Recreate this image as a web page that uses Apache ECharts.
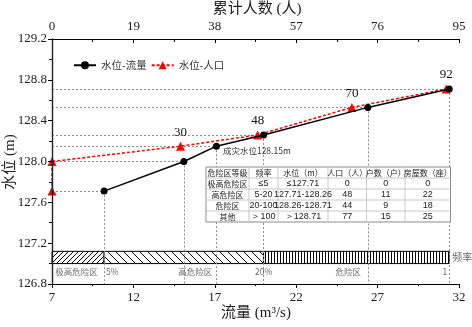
<!DOCTYPE html>
<html>
<head>
<meta charset="utf-8">
<script src="https://cdn.jsdelivr.net/npm/echarts@6/dist/echarts.min.js"></script>
<style>
  html, body { margin: 0; padding: 0; background: #fff; }
  #chart { width: 472px; height: 327px; }
</style>
</head>
<body>
<div id="chart"></div>
<script>
// 水位-流量
const flow = [10.2, 15.1, 17.1, 20.0, 26.4, 31.4];
const levelByFlow = [127.71, 128.0, 128.15, 128.26, 128.53, 128.71];
// 水位-人口
const people = [0, 0, 30, 48, 70, 92];
const levelByPeople = [127.71, 128.0, 128.15, 128.26, 128.53, 128.71];

// 频率分区带
const zoneFrom = [7, 10.2, 20];
const zoneTo = [10.2, 20, 31.4];
const zoneHatch = ['fwd', 'back', 'vert'];
const bandBottom = 127.0;
const bandTop = 127.12;
const zoneLabels = ['极高危险区', '5%', '高危险区', '20%', '危险区', '1'];
const zoneLabelX = [8.5, 10.2, 15.8, 20, 25.2, 31.4];
const zoneLabelY = 126.92;

// 表格
const tableHeader = ['危险区等级', '频率', '水位（m）', '人口（人）', '户数（户）', '房屋数（座）'];
const tableRows = [
  ['极高危险区', '≤5', '≤127.71', '0', '0', '0'],
  ['高危险区', '5-20', '127.71-128.26', '48', '11', '22'],
  ['危险区', '20-100', '128.26-128.71', '44', '9', '18'],
  ['其他', '＞100', '＞128.71', '77', '15', '25']
];

const SERIF = '"Liberation Serif", "Times New Roman", "Noto Sans CJK SC", serif';
const CJK = '"Noto Sans CJK SC", sans-serif';
const GUIDE = { color: '#8a8a8a', type: [2, 2], width: 1 };

function makeHatch(kind) {
  const s = kind === 'back' ? 8 : (kind === 'fwd' ? 5 : 3);
  const c = document.createElement('canvas');
  c.width = s; c.height = s;
  const g = c.getContext('2d');
  g.fillStyle = '#fff';
  g.fillRect(0, 0, s, s);
  g.strokeStyle = '#000';
  g.lineWidth = 1;
  g.beginPath();
  if (kind === 'vert') {
    g.moveTo(1.5, 0); g.lineTo(1.5, s);
  } else if (kind === 'fwd') {
    g.moveTo(0, s); g.lineTo(s, 0);
    g.moveTo(-1, 1); g.lineTo(1, -1);
    g.moveTo(s - 1, s + 1); g.lineTo(s + 1, s - 1);
  } else {
    g.moveTo(0, 0); g.lineTo(s, s);
    g.moveTo(-1, s - 1); g.lineTo(1, s + 1);
    g.moveTo(s - 1, -1); g.lineTo(s + 1, 1);
  }
  g.stroke();
  return { type: 'pattern', image: c, repeat: 'repeat' };
}
const hatches = { fwd: makeHatch('fwd'), back: makeHatch('back'), vert: makeHatch('vert') };

// 辅助虚线
const guideLines = [];
flow.forEach((f, i) => {
  const h = levelByFlow[i];
  guideLines.push([{ coord: [7, h] }, { coord: [f, h] }]);
  guideLines.push([{ coord: [f, h] }, { coord: [f, 126.8] }]);
});

// 表格图形
function buildTable(x0, y0) {
  const colW = [43, 29, 50, 38.5, 38.5, 45.5];
  const rowH = 11;
  const totalW = colW.reduce((a, b) => a + b, 0);
  const rows = [tableHeader].concat(tableRows);
  const els = [{
    type: 'rect', shape: { x: x0, y: y0, width: totalW, height: rowH * rows.length },
    style: { fill: '#fff', stroke: '#8c8c8c', lineWidth: 1 }, z: 10
  }];
  for (let r = 1; r < rows.length; r++) {
    els.push({ type: 'line', shape: { x1: x0, y1: y0 + r * rowH, x2: x0 + totalW, y2: y0 + r * rowH },
      style: { stroke: '#c8c8c8', lineWidth: 1 }, z: 11 });
  }
  let cx = x0;
  colW.forEach((w, c) => {
    if (c > 0) {
      els.push({ type: 'line', shape: { x1: cx, y1: y0, x2: cx, y2: y0 + rowH * rows.length },
        style: { stroke: '#c8c8c8', lineWidth: 1 }, z: 11 });
    }
    rows.forEach((row, r) => {
      const isCjk = r === 0 || c === 0;
      els.push({
        type: 'text', x: cx + w / 2, y: y0 + r * rowH + rowH / 2 + 0.5, z: 12,
        style: { text: row[c], fill: '#222', align: 'center', verticalAlign: 'middle',
          font: isCjk ? '8px ' + CJK : '9px "Liberation Sans", Arial, sans-serif' }
      });
    });
    cx += w;
  });
  return els;
}

// 坐标轴标题
function axisTitles() {
  const font = '15px ' + SERIF;
  return [
    { type: 'text', x: 257, y: 9, style: { text: '累计人数 (人)', font, fill: '#222', align: 'center', verticalAlign: 'middle' } },
    { type: 'text', x: 256, y: 313, style: { text: '流量 (m³/s)', font, fill: '#222', align: 'center', verticalAlign: 'middle' } },
    { type: 'text', x: 10, y: 162, rotation: Math.PI / 2,
      style: { text: '水位 (m)', font, fill: '#222', align: 'center', verticalAlign: 'middle' } }
  ];
}

const chart = echarts.init(document.getElementById('chart'));
chart.setOption({
  animation: false,
  backgroundColor: '#fff',
  grid: { left: 52, right: 13, top: 39, bottom: 43, outerBoundsMode: 'none' },
  legend: {
    left: 68, top: 55, itemWidth: 22, itemHeight: 10, itemGap: 4,
    textStyle: { fontFamily: CJK, fontSize: 10.5, color: '#333' },
    data: ['水位-流量', '水位-人口']
  },
  xAxis: [{
    type: 'value', position: 'bottom', min: 7, max: 32, interval: 5,
    axisLine: { show: true, onZero: false, lineStyle: { color: '#000', width: 1.2 } },
    axisTick: { show: true, length: 4, lineStyle: { color: '#000' } },
    minorTick: { show: true, splitNumber: 2, length: 2, lineStyle: { color: '#000' } },
    axisLabel: { fontFamily: SERIF, fontSize: 13, color: '#222', margin: 7 },
    splitLine: { show: false }
  }, {
    type: 'value', position: 'top', min: 0, max: 95, interval: 19,
    axisLine: { show: true, onZero: false, lineStyle: { color: '#000', width: 1.2 } },
    axisTick: { show: true, inside: true, length: 4, lineStyle: { color: '#000' } },
    minorTick: { show: true, splitNumber: 2, length: 3, lineStyle: { color: '#000' } },
    axisLabel: { fontFamily: SERIF, fontSize: 13, color: '#222', margin: 6 },
    splitLine: { show: false }
  }],
  yAxis: {
    type: 'value', min: 126.8, max: 129.2, interval: 0.4, z: 6,
    axisLine: { show: true, lineStyle: { color: '#222', width: 1.4 } },
    axisTick: { show: true, length: 4, lineStyle: { color: '#000' } },
    minorTick: { show: true, splitNumber: 2, length: 3, lineStyle: { color: '#000' } },
    axisLabel: { fontFamily: SERIF, fontSize: 13, color: '#222', margin: 5,
      formatter: v => v.toFixed(1) },
    splitLine: { show: false }
  },
  graphic: buildTable(206, 167).concat(axisTitles()),
  series: [{
    type: 'custom', name: 'band', xAxisIndex: 0, silent: true, z: 1,
    data: zoneFrom.map((f, i) => [f, zoneTo[i], i]),
    renderItem: (params, api) => {
      const p0 = api.coord([api.value(0), bandTop]);
      const p1 = api.coord([api.value(1), bandBottom]);
      return {
        type: 'rect',
        shape: { x: p0[0], y: p0[1], width: p1[0] - p0[0], height: p1[1] - p0[1] },
        style: { fill: hatches[zoneHatch[api.value(2)]], stroke: '#000', lineWidth: 1 }
      };
    }
  }, {
    type: 'scatter', name: 'zoneText', xAxisIndex: 0, silent: true, symbolSize: 0, z: 3,
    data: zoneLabels.map((t, i) => ({
      value: [zoneLabelX[i], zoneLabelY],
      label: {
        show: true, formatter: t, position: 'inside',
        align: t === '5%' ? 'left' : (t === '1' ? 'right' : 'center'),
        offset: t === '5%' ? [2, 0] : (t === '1' ? [-2, 0] : [0, 0]),
        fontFamily: CJK, fontSize: 8.5, color: '#444'
      }
    }))
  }, {
    type: 'scatter', name: 'bandName', xAxisIndex: 0, silent: true, symbolSize: 0,
    data: [{ value: [31.4, 127.06], label: { show: true, formatter: '频率', position: 'right', distance: 3,
      fontFamily: CJK, fontSize: 10, color: '#444' } }]
  }, {
    type: 'line', name: '水位-流量', xAxisIndex: 0, z: 5,
    data: flow.map((f, i) => ({
      value: [f, levelByFlow[i]],
      label: levelByFlow[i] === 128.15 ? {
        show: true, formatter: '成灾水位128.15m', position: 'right', distance: 3, offset: [0, 5],
        fontFamily: CJK, fontSize: 8.5, color: '#333'
      } : { show: false }
    })),
    symbol: 'circle', symbolSize: 7,
    itemStyle: { color: '#000' },
    lineStyle: { color: '#000', width: 1.5 },
    markLine: {
      silent: true, symbol: 'none', label: { show: false },
      lineStyle: GUIDE, z: 2,
      data: guideLines
    }
  }, {
    type: 'line', name: '水位-人口', xAxisIndex: 1, z: 4,
    data: people.map((p, i) => [p, levelByPeople[i]]),
    symbol: 'triangle', symbolSize: 9,
    itemStyle: { color: '#ff0000' },
    lineStyle: { color: '#ff0000', width: 1.5, type: [3, 2] },
    label: {
      show: true, position: 'top', distance: 3,
      fontFamily: SERIF, fontSize: 13, color: '#111',
      formatter: p => (p.value[0] > 0 ? String(p.value[0]) : '')
    }
  }]
});
</script>
</body>
</html>
